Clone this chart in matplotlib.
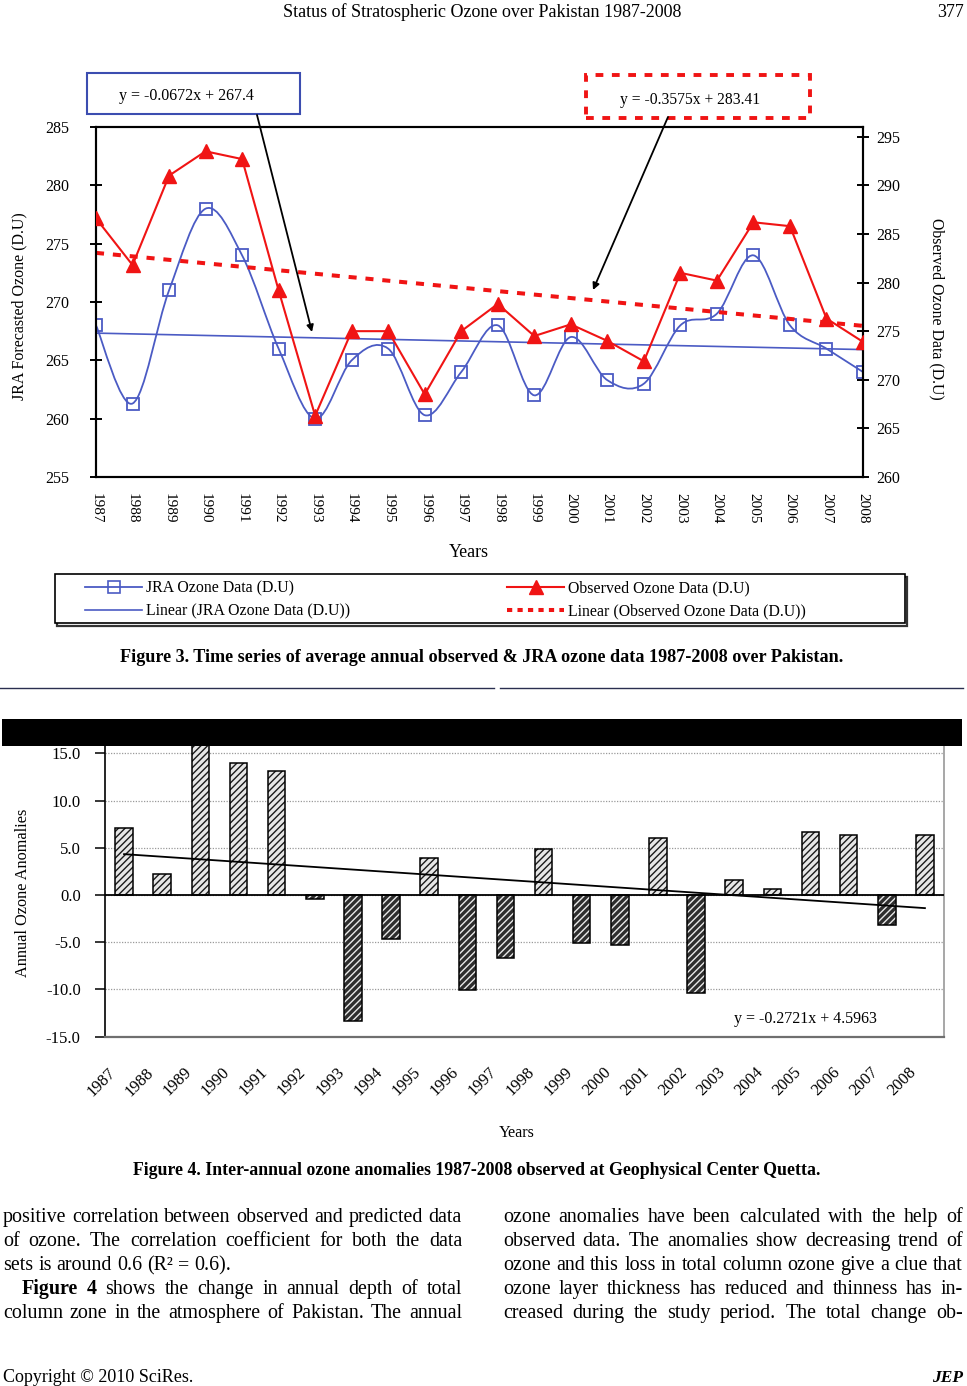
import numpy as np
import matplotlib
matplotlib.use("Agg")
import matplotlib.pyplot as plt
from matplotlib.path import Path
from matplotlib.patches import PathPatch, Rectangle, FancyArrowPatch
from matplotlib.lines import Line2D
import matplotlib.transforms as mtransforms

# ---------------- data ----------------
years = list(range(1987, 2009))
jra_ozone = [268.0, 261.3, 271.0, 278.0, 274.0, 266.0, 260.0, 265.0, 266.0, 260.3, 264.0,
             268.0, 262.0, 267.0, 263.3, 263.0, 268.0, 269.0, 274.0, 268.0, 266.0, 264.0]
observed_ozone = [286.6, 281.8, 291.0, 293.5, 292.7, 279.2, 266.3, 275.0, 275.0, 268.5, 275.0,
                  277.8, 274.5, 275.7, 274.0, 271.9, 281.0, 280.2, 286.2, 285.8, 276.3, 273.9]
anomalies = [7.1, 2.2, 18.5, 14.0, 13.1, -0.4, -13.3, -4.7, 3.9, -10.1, -6.7,
             4.9, -5.1, -5.3, 6.0, -10.4, 1.6, 0.6, 6.7, 6.3, -3.2, 6.4]
jra_trend = [-0.0672, 267.4]        # slope, intercept (x = 1..22)
obs_trend = [-0.3575, 283.41]
anom_trend = [-0.2721, 4.5963]
left_ticks = [255, 260, 265, 270, 275, 280, 285]
right_ticks = [260, 265, 270, 275, 280, 285, 290, 295]
anom_ticks = [-15, -10, -5, 0, 5, 10, 15]

header = "Status of Stratospheric Ozone over Pakistan 1987-2008"
page_no = "377"
cap3 = "Figure 3. Time series of average annual observed & JRA ozone data 1987-2008 over Pakistan."
cap4 = "Figure 4. Inter-annual ozone anomalies 1987-2008 observed at Geophysical Center Quetta."
left_col = [
    ("positive correlation between observed and predicted data", True, 0),
    ("of ozone. The correlation coefficient for both the data", True, 0),
    ("sets is around 0.6 (R\u00b2 = 0.6).", False, 0),
    ("**Figure **4 shows the change in annual depth of total", True, 19),
    ("column zone in the atmosphere of Pakistan. The annual", True, 0),
]
right_col = [
    ("ozone anomalies have been calculated with the help of", True, 0),
    ("observed data. The anomalies show decreasing trend of", True, 0),
    ("ozone and this loss in total column ozone give a clue that", True, 0),
    ("ozone layer thickness has reduced and thinness has in-", True, 0),
    ("creased during the study period. The total change ob-", True, 0),
]

plt.rcParams['font.family'] = ['Liberation Serif', 'DejaVu Serif']
plt.rcParams['axes.unicode_minus'] = False

W, H, DPI = 967, 1386, 100
fig = plt.figure(figsize=(W / DPI, H / DPI), dpi=DPI)
fig.patch.set_facecolor('white')
renderer = fig.canvas.get_renderer()

BLUE = '#4b5bc4'
RED = '#f01414'


def box(l, t, r, b):
    return [l / W, 1 - b / H, (r - l) / W, (b - t) / H]


def fxy(x, y):
    return (x / W, 1 - y / H)


def text_w(s, size, **kw):
    t = fig.text(0, 0, s, fontsize=size, **kw)
    bb = t.get_window_extent(renderer)
    t.remove()
    return bb.width


def text_h(s, size, **kw):
    t = fig.text(0, 0, s, fontsize=size, **kw)
    bb = t.get_window_extent(renderer)
    t.remove()
    return bb.height


def fit(s, width, **kw):
    return 12.0 * width / text_w(s, 12.0, **kw)


def put(x, y, s, width=None, size=12, ha='left', va='baseline', **kw):
    if width is not None:
        size = fit(s, width, **kw)
    return fig.text(x / W, 1 - y / H, s, fontsize=size, ha=ha, va=va, **kw)


# ---------------- header / footer ----------------
put(482, 17, header, width=398, ha='center')
put(964, 17, page_no, width=27, ha='right')

# ---------------- top chart ----------------
n = len(years)
xi = np.arange(n)
ax1 = fig.add_axes(box(96, 127, 863, 477))
ax1.set_xlim(0, n - 1)
ax1.set_ylim(255, 285)
ax1.set_yticks(left_ticks)
ax1.set_xticks(xi)
ax1.set_xticklabels([str(y) for y in years], rotation=270, fontsize=11)
ax1.tick_params(axis='x', length=0, pad=11.5)
ax1.tick_params(axis='y', direction='inout', length=8.5, width=1.4, labelsize=11.5, pad=15)
for s in ax1.spines.values():
    s.set_linewidth(1.5)
    s.set_color('black')

# smooth (Bezier) line through JRA points
pts = np.column_stack([xi, jra_ozone]).astype(float)
verts = [pts[0]]
codes = [Path.MOVETO]
for i in range(n - 1):
    p0 = pts[i - 1] if i > 0 else pts[i]
    p1 = pts[i]
    p2 = pts[i + 1]
    p3 = pts[i + 2] if i + 2 < n else pts[i + 1]
    verts += [p1 + (p2 - p0) / 6.0, p2 - (p3 - p1) / 6.0, p2]
    codes += [Path.CURVE4] * 3
ax1.add_patch(PathPatch(Path(verts, codes), fill=False, edgecolor=BLUE, lw=1.3, zorder=2))
ax1.plot(xi, jra_ozone, ls='none', marker='s', ms=9, mfc='none', mec=BLUE, mew=1.3, zorder=3)
ax1.plot(xi, jra_trend[0] * (xi + 1) + jra_trend[1], color=BLUE, lw=1.2, zorder=2)

ax2 = ax1.twinx()
ax2.set_xlim(0, n - 1)
ax2.set_ylim(260, 296)
ax2.set_yticks(right_ticks)
ax2.tick_params(axis='y', direction='inout', length=8.5, width=1.4, labelsize=11.5, pad=5)
for s in ax2.spines.values():
    s.set_linewidth(1.5)
    s.set_color('black')
ax2.plot(xi, obs_trend[0] * (xi + 1) + obs_trend[1], color=RED, lw=2.9,
         ls=(0, (2.0, 2.2)), zorder=2)
ax2.plot(xi, observed_ozone, color=RED, lw=1.5, marker='^', ms=10.5, mfc=RED, mec=RED, zorder=3)

lab1 = "JRA Forecasted Ozone (D.U)"
lab2 = "Observed Ozone Data (D.U)"
ax1.set_ylabel(lab1, fontsize=fit(lab1, 188), va='center', ha='center')
ax1.yaxis.set_label_coords((19 - 96) / 767, (477 - 306) / 350)
ax2.set_ylabel(lab2, fontsize=fit(lab2, 182), rotation=270, va='center', ha='center')
ax2.yaxis.set_label_coords((937 - 96) / 767, (477 - 309) / 350)

put(469, 557, "Years", width=40, ha='center')

# equation boxes and arrows
fig.add_artist(Rectangle(fxy(87, 114), 213 / W, 41 / H, transform=fig.transFigure,
                         fill=False, ec='#3c4db0', lw=1.5, zorder=5))
put(186, 99.5, "y = -0.0672x + 267.4", width=135, ha='center')
fig.add_artist(Rectangle(fxy(586, 118), 224 / W, 43 / H, transform=fig.transFigure,
                         fill=False, ec=RED, lw=2.8, ls=(0, (2.0, 2.2)), zorder=5))
put(690, 104, "y = -0.3575x + 283.41", width=140, ha='center')
for (a, b) in [((257, 115), (312, 332)), ((668, 117), (593, 290))]:
    fig.add_artist(FancyArrowPatch(fxy(*a), fxy(*b), transform=fig.transFigure,
                                   arrowstyle='-|>', mutation_scale=10, lw=1.3,
                                   color='black', shrinkA=0, shrinkB=0, zorder=6))

# legend
legend_labels = ["JRA Ozone Data (D.U)", "Linear (JRA Ozone Data (D.U))",
                 "Observed Ozone Data (D.U)", "Linear (Observed Ozone Data (D.U))"]
leg_fs = fit(legend_labels[1], 204)
fs_px = leg_fs * DPI / 72.0
h_jra = Line2D([], [], color=BLUE, lw=1.3, marker='s', ms=8, mfc='none', mec=BLUE, mew=1.2)
h_jra_tr = Line2D([], [], color=BLUE, lw=1.2)
h_obs = Line2D([], [], color=RED, lw=1.5, marker='^', ms=9.5, mfc=RED, mec=RED)
h_obs_tr = Line2D([], [], color=RED, lw=2.9, ls=(0, (1.3, 1.3)))
hl = (142 - 85) / fs_px
htp = (146 - 142) / fs_px
col1_end = 85 + hl * fs_px + htp * fs_px + text_w(legend_labels[1], leg_fs)
cs = (507 - col1_end) / fs_px
th = text_h(legend_labels[1], leg_fs)
lsp = max(0.0, (23 - th) / fs_px)
fig.legend([h_jra, h_jra_tr, h_obs, h_obs_tr], legend_labels, ncol=2, loc='center left',
           bbox_to_anchor=fxy(85, 600), frameon=False, fontsize=leg_fs, handlelength=hl,
           handletextpad=htp, columnspacing=cs, labelspacing=lsp, borderpad=0,
           borderaxespad=0)
fig.add_artist(Rectangle(fxy(57, 625.5), 850 / W, 49 / H, transform=fig.transFigure,
                         fill=False, ec='#333333', lw=1.6, zorder=4))
fig.add_artist(Rectangle(fxy(55, 623), 850 / W, 49 / H, transform=fig.transFigure,
                         fc='white', ec='black', lw=1.2, zorder=4.5))

put(481.5, 662, cap3, width=717, ha='center', fontweight='bold')

# separator rules and black band
fig.add_artist(Line2D([0 / W, 494 / W], [1 - 688 / H] * 2, transform=fig.transFigure,
                      color='#2a2f50', lw=1.0))
fig.add_artist(Line2D([500 / W, 963 / W], [1 - 688 / H] * 2, transform=fig.transFigure,
                      color='#2a2f50', lw=1.0))

# ---------------- bottom chart ----------------
ax3 = fig.add_axes(box(105, 734.4, 944, 1036.7))
ax3.set_xlim(-0.5, n - 0.5)
ax3.set_ylim(-15, 17)
ax3.set_yticks(anom_ticks)
ax3.set_yticklabels(['%.1f' % v for v in anom_ticks])
ax3.tick_params(axis='y', direction='out', length=7, width=1.1, labelsize=12, pad=10.5)
ax3.set_xticks(xi)
ax3.set_xticklabels([str(y) for y in years], rotation=45, ha='right', va='top', fontsize=12)
ax3.tick_params(axis='x', length=0, pad=20)
offset = mtransforms.ScaledTranslation(-4 / 72, 0, fig.dpi_scale_trans)
for lab in ax3.get_xticklabels():
    lab.set_transform(lab.get_transform() + offset)
ax3.yaxis.grid(True, color='#9a9a9a', lw=0.9, ls=(0, (1, 1.2)))
ax3.set_axisbelow(True)
ax3.spines['top'].set_visible(False)
ax3.spines['left'].set_color('black')
ax3.spines['left'].set_linewidth(1.2)
ax3.spines['bottom'].set_color('#6f6f6f')
ax3.spines['bottom'].set_linewidth(1.6)
ax3.spines['right'].set_color('#a0a0a0')
ax3.spines['right'].set_linewidth(1.3)

vals = np.array(anomalies)
pos = vals >= 0
faces = np.where(pos, '#e6e6e6', '#2e2e2e')
hatch_cols = np.where(pos, '#1a1a1a', '#e8e8e8')
bw = 0.46
ax3.bar(xi, vals, width=bw, color=list(faces), edgecolor=list(hatch_cols), hatch='/////',
        linewidth=0, zorder=2)
ax3.bar(xi, vals, width=bw, fill=False, edgecolor='black', linewidth=1.1, zorder=3)
ax3.axhline(0, color='black', lw=1.3, zorder=4)
ax3.plot(xi, anom_trend[0] * (xi + 1) + anom_trend[1], color='black', lw=1.3, zorder=5)

lab3 = "Annual Ozone Anomalies"
ax3.set_ylabel(lab3, fontsize=fit(lab3, 168), va='center', ha='center')
ax3.yaxis.set_label_coords((23 - 105) / 839, (1036.7 - 892.5) / 302.3)
put(805, 1023, "y = -0.2721x + 4.5963", width=144, ha='center')
put(517, 1137, "Years", width=36, ha='center')

fig.add_artist(Rectangle(fxy(2, 746), 960 / W, 27 / H, transform=fig.transFigure,
                         fc='black', ec='none', zorder=10))

put(477, 1175, cap4, width=682, ha='center', fontweight='bold')

# ---------------- body text ----------------
space12 = text_w('a a', 12) - text_w('aa', 12)


def split_words(line):
    res = []
    for tok in line.split(' '):
        if '**' in tok:
            res.append((tok.replace('**', ''), 'bold'))
        else:
            res.append((tok, 'normal'))
    return res


def natural(words, size):
    ws = [text_w(w, size, fontweight=wt) for w, wt in words]
    return sum(ws) + (len(words) - 1) * space12 * size / 12.0


cols = [(left_col, 3, 462), (right_col, 503, 963)]
scale = 10.0
for col, x0, x1 in cols:
    for line, just, ind in col:
        words = split_words(line)
        scale = min(scale, (x1 - x0 - ind) / natural(words, 12.0))
body_size = 12.0 * scale * 0.995

baselines = [1222, 1246, 1270, 1294, 1318]
for col, x0, x1 in cols:
    for (line, just, ind), yb in zip(col, baselines):
        words = split_words(line)
        ws = [text_w(w, body_size, fontweight=wt) for w, wt in words]
        if just and len(words) > 1:
            gap = (x1 - x0 - ind - sum(ws)) / (len(words) - 1)
        else:
            gap = space12 * body_size / 12.0
        x = x0 + ind
        for (w, wt), ww in zip(words, ws):
            fig.text(x / W, 1 - yb / H, w, fontsize=body_size, fontweight=wt,
                     ha='left', va='baseline')
            x += ww + gap

put(3, 1382, "Copyright \u00a9 2010 SciRes.", width=190)
put(963, 1382, "JEP", width=31, ha='right', fontweight='bold', fontstyle='italic')

fig.savefig('out.png', dpi=DPI, facecolor='white')
